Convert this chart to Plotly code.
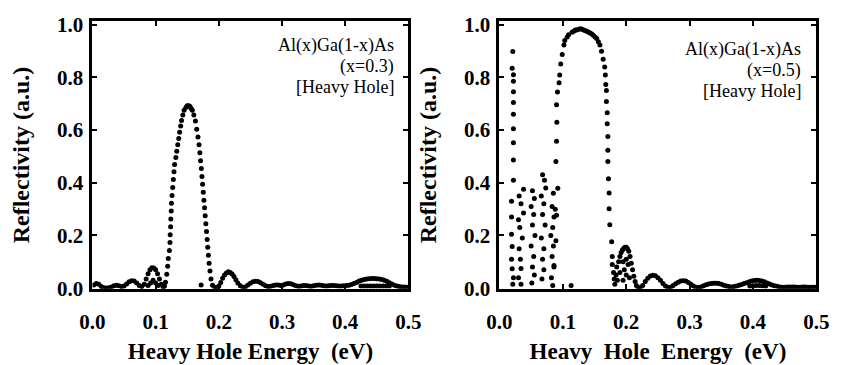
import plotly.graph_objects as go

W, H = 841, 365

# ---------------- data: left panel (x = 0.3) ----------------
left_x = [
    0.002, 0.006, 0.010, 0.014, 0.018, 0.022, 0.026, 0.030, 0.034, 0.038, 0.042, 0.046,
    0.050, 0.054, 0.058, 0.062, 0.066, 0.070, 0.074, 0.078, 0.082, 0.085, 0.088, 0.091,
    0.094, 0.097, 0.100, 0.103, 0.106, 0.109, 0.112, 0.114,
    0.088, 0.092, 0.096, 0.100, 0.104,
    0.1155, 0.1176, 0.119, 0.120, 0.1217, 0.1227, 0.123, 0.1237, 0.124, 0.1247, 0.125,
    0.126, 0.127, 0.128, 0.129, 0.130, 0.132, 0.1334, 0.135, 0.1365, 0.138, 0.1396,
    0.141, 0.143, 0.145, 0.148, 0.150, 0.152, 0.154, 0.156, 0.158, 0.1605, 0.163,
    0.165, 0.167, 0.1687, 0.170, 0.171, 0.1723, 0.1733, 0.1743, 0.1754, 0.1764, 0.1774,
    0.1784, 0.1794, 0.1805, 0.1815, 0.1825, 0.1835, 0.1846, 0.186, 0.1876, 0.190, 0.1938,
    0.172,
    0.197, 0.200, 0.203, 0.206, 0.209, 0.212, 0.215, 0.218, 0.221, 0.224, 0.227, 0.230,
    0.234, 0.238, 0.242, 0.246, 0.250, 0.254, 0.258, 0.262, 0.266, 0.270, 0.274, 0.278,
    0.282, 0.286, 0.290, 0.294, 0.298, 0.302, 0.306, 0.310, 0.314, 0.318, 0.322, 0.326,
    0.330, 0.334, 0.338, 0.342, 0.346, 0.350, 0.354, 0.358, 0.362, 0.366, 0.370, 0.374,
    0.378, 0.382, 0.386, 0.390, 0.394, 0.398, 0.402, 0.406, 0.410, 0.414, 0.418, 0.422,
    0.426, 0.430, 0.434, 0.438, 0.442, 0.446, 0.450, 0.454, 0.458, 0.462, 0.466, 0.470,
    0.474, 0.478, 0.482, 0.486, 0.490, 0.494, 0.498,
    0.425, 0.430, 0.435, 0.440, 0.445, 0.450, 0.455, 0.460, 0.465, 0.470,
]
left_y = [
    0.012, 0.018, 0.015, 0.006, 0.002, 0.001, 0.002, 0.005, 0.009, 0.011, 0.009, 0.006,
    0.008, 0.016, 0.024, 0.028, 0.027, 0.020, 0.010, 0.006, 0.015, 0.035, 0.055, 0.070,
    0.078, 0.077, 0.070, 0.055, 0.035, 0.015, 0.004, 0.008,
    0.010, 0.020, 0.030, 0.020, 0.010,
    0.023, 0.053, 0.083, 0.113, 0.143, 0.173, 0.203, 0.233, 0.263, 0.293, 0.322,
    0.352, 0.382, 0.412, 0.442, 0.469, 0.496, 0.520, 0.544, 0.568, 0.592, 0.615,
    0.636, 0.657, 0.675, 0.687, 0.692, 0.692, 0.690, 0.683, 0.675, 0.657, 0.634,
    0.603, 0.574, 0.544, 0.514, 0.484, 0.454, 0.424, 0.394, 0.364, 0.334, 0.305,
    0.275, 0.245, 0.215, 0.185, 0.155, 0.125, 0.095, 0.065, 0.035, 0.011, 0.003,
    0.012,
    0.002, 0.008, 0.022, 0.038, 0.050, 0.058, 0.062, 0.060, 0.054, 0.044, 0.032, 0.020,
    0.009, 0.004, 0.005, 0.012, 0.019, 0.024, 0.026, 0.025, 0.021, 0.015, 0.009, 0.006,
    0.007, 0.010, 0.012, 0.012, 0.010, 0.012, 0.016, 0.018, 0.017, 0.013, 0.009, 0.007,
    0.008, 0.010, 0.010, 0.008, 0.007, 0.009, 0.011, 0.012, 0.011, 0.009, 0.008, 0.009,
    0.010, 0.010, 0.009, 0.008, 0.008, 0.009, 0.010, 0.011, 0.014, 0.018, 0.022, 0.027,
    0.030, 0.033, 0.035, 0.036, 0.037, 0.037, 0.036, 0.035, 0.033, 0.030, 0.026, 0.021,
    0.016, 0.011, 0.008, 0.006, 0.005, 0.005, 0.004,
    0.008, 0.008, 0.008, 0.008, 0.008, 0.008, 0.008, 0.008, 0.008, 0.008,
]

# ---------------- data: right panel (x = 0.5) ----------------
right_x = [
    # column near 0.02
    0.021, 0.020, 0.022, 0.022, 0.022, 0.022, 0.022, 0.022, 0.022, 0.022, 0.022,
    0.019, 0.019, 0.019, 0.020, 0.019, 0.020, 0.022, 0.021,
    # column near 0.035
    0.038, 0.031, 0.034, 0.038, 0.030, 0.032, 0.036, 0.031, 0.033, 0.034, 0.030, 0.034,
    # column near 0.053
    0.052, 0.055, 0.050, 0.054, 0.052, 0.056, 0.050, 0.054, 0.052, 0.055, 0.051,
    # column near 0.07
    0.068, 0.071, 0.073, 0.066, 0.070, 0.068, 0.072, 0.066, 0.070, 0.068, 0.070, 0.067,
    # column near 0.085
    0.085, 0.083, 0.086, 0.084, 0.081, 0.085, 0.083, 0.086, 0.082, 0.084, 0.088,
    0.113,
    # main lobe
    0.092, 0.090, 0.089, 0.086,
    0.089, 0.090, 0.0905, 0.090, 0.0915, 0.094, 0.095, 0.0966, 0.099, 0.1017, 0.1068,
    0.1145, 0.1196, 0.125, 0.130, 0.1355, 0.1406, 0.1457, 0.1508, 0.1534, 0.156, 0.1585,
    0.161, 0.1636, 0.166, 0.167, 0.1677, 0.1687, 0.1687, 0.170, 0.170, 0.171, 0.171,
    0.171, 0.172, 0.173, 0.173, 0.174, 0.177,
    0.1030, 0.1090, 0.1170, 0.1220, 0.1280, 0.1330, 0.1380, 0.1430, 0.1480,
    # scatter & second lobe
    0.178, 0.178, 0.180, 0.181, 0.182, 0.184, 0.185, 0.186, 0.188, 0.190, 0.190, 0.192,
    0.194, 0.196, 0.198, 0.200, 0.202, 0.204, 0.206, 0.208, 0.210, 0.212, 0.214, 0.216,
    0.219, 0.195, 0.200, 0.203, 0.197, 0.200, 0.205, 0.195,
    # tail
    0.222, 0.226, 0.230, 0.234, 0.238, 0.242, 0.246, 0.250, 0.254, 0.258, 0.262, 0.266,
    0.270, 0.274, 0.278, 0.282, 0.286, 0.290, 0.294, 0.298, 0.302, 0.306, 0.310, 0.314,
    0.318, 0.322, 0.326, 0.330, 0.334, 0.338, 0.342, 0.346, 0.350, 0.354, 0.358, 0.362,
    0.366, 0.370, 0.374, 0.378, 0.382, 0.386, 0.390, 0.394, 0.398, 0.402, 0.406, 0.410,
    0.414, 0.418, 0.422, 0.426, 0.430, 0.434, 0.438, 0.442, 0.446, 0.450, 0.454, 0.458,
    0.462, 0.466, 0.470, 0.474, 0.478, 0.482, 0.486, 0.490, 0.494, 0.498,
    0.395, 0.400, 0.405, 0.410, 0.415, 0.420,
]
right_y = [
    0.898, 0.835, 0.810, 0.785, 0.745, 0.705, 0.660, 0.605, 0.552, 0.486, 0.410,
    0.330, 0.270, 0.205, 0.158, 0.110, 0.074, 0.040, 0.015,
    0.375, 0.350, 0.320, 0.285, 0.260, 0.230, 0.190, 0.150, 0.110, 0.075, 0.040, 0.015,
    0.370, 0.340, 0.310, 0.280, 0.240, 0.200, 0.160, 0.120, 0.080, 0.050, 0.020,
    0.430, 0.410, 0.380, 0.350, 0.320, 0.280, 0.240, 0.190, 0.150, 0.110, 0.070, 0.035,
    0.360, 0.310, 0.270, 0.230, 0.200, 0.160, 0.120, 0.080, 0.040, 0.010, 0.300,
    0.010,
    0.379, 0.277, 0.180, 0.086,
    0.481, 0.558, 0.630, 0.696, 0.744, 0.780, 0.809, 0.851, 0.887, 0.923, 0.953,
    0.971, 0.980, 0.983, 0.983, 0.977, 0.971, 0.965, 0.953, 0.947, 0.935, 0.923,
    0.899, 0.869, 0.839, 0.809, 0.773, 0.750, 0.708, 0.666, 0.624, 0.576, 0.523,
    0.481, 0.415, 0.361, 0.301, 0.241, 0.176,
    0.940, 0.962, 0.975, 0.980, 0.984, 0.980, 0.975, 0.968, 0.960,
    0.120, 0.090, 0.060, 0.035, 0.015, 0.050, 0.080, 0.030, 0.100, 0.120, 0.060, 0.135,
    0.145, 0.152, 0.155, 0.155, 0.150, 0.140, 0.120, 0.095, 0.070, 0.045, 0.025, 0.010,
    0.003, 0.100, 0.110, 0.090, 0.070, 0.050, 0.040, 0.030,
    0.002, 0.010, 0.025, 0.038, 0.046, 0.049, 0.047, 0.040, 0.030, 0.018, 0.008, 0.003,
    0.004, 0.010, 0.017, 0.023, 0.027, 0.028, 0.027, 0.022, 0.015, 0.008, 0.004, 0.003,
    0.005, 0.009, 0.013, 0.016, 0.018, 0.019, 0.019, 0.018, 0.015, 0.011, 0.008, 0.006,
    0.005, 0.006, 0.008, 0.011, 0.014, 0.018, 0.021, 0.024, 0.027, 0.029, 0.030, 0.029,
    0.027, 0.024, 0.020, 0.016, 0.012, 0.009, 0.007, 0.005, 0.004, 0.004, 0.005, 0.005,
    0.005, 0.005, 0.004, 0.004, 0.005, 0.005, 0.004, 0.004, 0.004, 0.004,
    0.008, 0.009, 0.010, 0.010, 0.009, 0.008,
]

x_ticks = [0.0, 0.1, 0.2, 0.3, 0.4, 0.5]
x_tick_text = ["0.0", "0.1", "0.2", "0.3", "0.4", "0.5"]
y_ticks = [0.0, 0.2, 0.4, 0.6, 0.8, 1.0]
y_tick_text = ["0.0", "0.2", "0.4", "0.6", "0.8", "1.0"]

left_label = ["Al(x)Ga(1-x)As", "(x=0.3)", "[Heavy Hole]"]
right_label = ["Al(x)Ga(1-x)As", "(x=0.5)", "[Heavy Hole]"]
left_xtitle = "Heavy Hole Energy\u00a0\u00a0(eV)"
right_xtitle = "Heavy\u00a0\u00a0Hole\u00a0\u00a0Energy\u00a0\u00a0(eV)"
ytitle = "Reflectivity (a.u.)"

SERIF = "Liberation Serif, Times New Roman, serif"
marker = dict(color="black", size=5, symbol="circle", line=dict(width=0))

fig = go.Figure()
fig.add_trace(go.Scatter(x=left_x, y=left_y, mode="markers", marker=marker,
                         xaxis="x", yaxis="y", showlegend=False))
fig.add_trace(go.Scatter(x=right_x, y=right_y, mode="markers", marker=marker,
                         xaxis="x2", yaxis="y2", showlegend=False))

def xaxis(domain, anchor, title):
    return dict(domain=domain, anchor=anchor, range=[0, 0.5],
                tickvals=x_ticks, ticktext=x_tick_text,
                showline=True, linewidth=3, linecolor="black", mirror="ticks",
                ticks="inside", ticklen=5, tickwidth=2, tickcolor="black",
                showgrid=False, zeroline=False, ticklabelstandoff=12,
                tickfont=dict(family=SERIF, size=21, color="black", weight="bold"),
                title=dict(text=title, standoff=10,
                           font=dict(family=SERIF, size=23, color="black", weight="bold")))

def yaxis(anchor):
    return dict(domain=[1 - 297 / H, 1 - 14 / H], anchor=anchor, range=[-0.002, 1.013],
                tickvals=y_ticks, ticktext=y_tick_text,
                showline=True, linewidth=3, linecolor="black", mirror="ticks",
                ticks="inside", ticklen=5, tickwidth=2, tickcolor="black",
                showgrid=False, zeroline=False, ticklabelstandoff=2,
                tickfont=dict(family=SERIF, size=21, color="black", weight="bold"),
                title=dict(text=ytitle, standoff=21,
                           font=dict(family=SERIF, size=24, color="black", weight="bold")))

annotations = []
for panel, lines, xr, ys in [(0, left_label, 395, [40, 62, 84]),
                             (1, right_label, 815, [44, 66, 88])]:
    for txt, yp in zip(lines, ys):
        annotations.append(dict(text=txt, xref="paper", yref="paper",
                                x=xr / W, y=1 - yp / H, xanchor="right", yanchor="middle",
                                showarrow=False,
                                font=dict(family=SERIF, size=18, color="black")))

fig.update_layout(
    width=W, height=H,
    margin=dict(l=0, r=0, t=0, b=0),
    paper_bgcolor="white", plot_bgcolor="white",
    xaxis=xaxis([82 / W, 408 / W], "y", left_xtitle),
    yaxis=yaxis("x"),
    xaxis2=xaxis([502 / W, 829 / W], "y2", right_xtitle),
    yaxis2=yaxis("x2"),
    annotations=annotations,
)

fig.write_html("out.html")
